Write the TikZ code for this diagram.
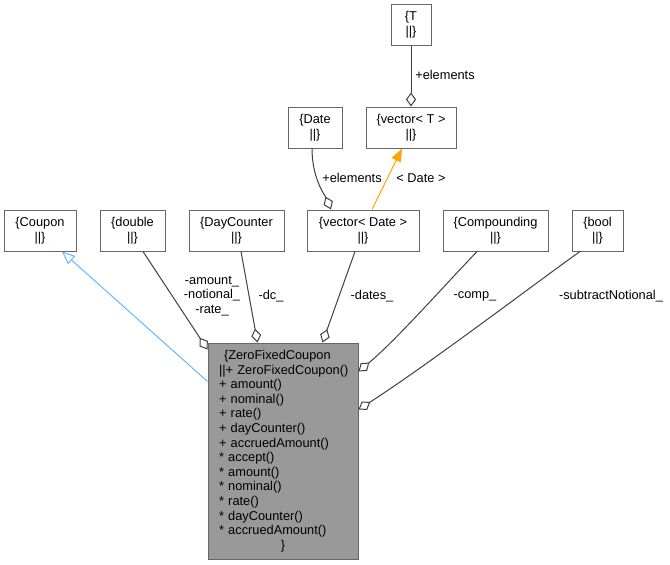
\documentclass[tikz,border=0pt]{standalone}
\usepackage{fontspec}
\setmainfont{Liberation Sans}
\usetikzlibrary{arrows.meta,calc}
\definecolor{edgec}{HTML}{404040}
\definecolor{boxc}{HTML}{666666}
\definecolor{mainfill}{HTML}{999999}
\definecolor{blueedge}{HTML}{63B8FF}
\definecolor{orangeedge}{HTML}{FFA500}
\tikzset{
 cls/.style={draw=boxc, fill=white, line width=0.75pt, inner sep=0pt, minimum height=30.75pt, align=center, font=\fontsize{9.6}{11}\selectfont},
 lbl/.style={inner sep=0pt, align=center, font=\fontsize{9.6}{10.9}\selectfont},
 member/.style={draw=edgec, line width=0.75pt, -{Diamond[open, length=10.5pt, width=7.5pt, fill=white]}},
 inherit/.style={draw=blueedge, line width=0.75pt, -{Triangle[open, length=9.75pt, width=8.25pt, fill=white]}},
 tmpl/.style={draw=orangeedge, line width=0.75pt, -{Triangle[length=9.75pt, width=7.5pt]}}
}
\begin{document}
\begin{tikzpicture}[x=0.75pt,y=-0.75pt]
\useasboundingbox (0,0) rectangle (670,564);
% class boxes
\node[cls, minimum width=30pt] (T) at (411,25) {\{T\\||\}};
\node[cls, minimum width=67.5pt] (vecT) at (411,127.5) {\{vector< T >\\||\}};
\node[cls, minimum width=40.5pt] (Date) at (315,127.5) {\{Date\\||\}};
\node[cls, minimum width=54pt] (Coupon) at (40,230.5) {\{Coupon\\||\}};
\node[cls, minimum width=48.75pt] (double) at (132.5,230.5) {\{double\\||\}};
\node[cls, minimum width=71.25pt] (DayCounter) at (236.5,230.5) {\{DayCounter\\||\}};
\node[cls, minimum width=84pt] (vecDate) at (363,230.5) {\{vector< Date >\\||\}};
\node[cls, minimum width=78.75pt] (Compounding) at (495.5,230.5) {\{Compounding\\||\}};
\node[cls, minimum width=38.25pt] (bool) at (597.5,230.5) {\{bool\\||\}};
\node[cls, fill=mainfill, minimum width=112.5pt, minimum height=162pt, text width=96pt, align=left, font=\fontsize{9.6}{10.95}\selectfont] (main) at (283,451) {%
\hspace*{3.75pt}\{ZeroFixedCoupon\\
\mbox{||+ ZeroFixedCoupon()}\\
+ amount()\\
+ nominal()\\
+ rate()\\
+ dayCounter()\\
+ accruedAmount()\\
{}* accept()\\
{}* amount()\\
{}* nominal()\\
{}* rate()\\
{}* dayCounter()\\
{}* accruedAmount()\\
\makebox[96pt]{\}}};
% connectors
\draw[member] (T.south) -- (vecT.north);
\draw[member] ($(Date.south)+(-3,0)$) .. controls +(0,30) and +(-6,-14) .. ($(vecDate.north)+(-32,0)$);
\draw[tmpl] ($(vecDate.north)+(9,0)$) -- ($(vecT.south)+(-9,0)$);
\draw[inherit] ($(main.north west)+(0,39)$) -- ($(Coupon.south)+(22,0)$);
\draw[member] ($(double.south)+(10.5,0)$) -- ($(main.north west)+(0,7)$);
\draw[member] ($(DayCounter.south)+(4.5,0)$) -- ($(main.north west)+(50,0)$);
\draw[member] ($(vecDate.south)+(-8,0)$) -- ($(main.north west)+(115,0)$);
\draw[member] ($(Compounding.south)+(-18.5,0)$) .. controls +(-38,40) and +(36,-30) .. ($(main.north east)+(0,29)$);
\draw[member] ($(bool.south)+(-17.5,0)$) .. controls +(-45,32) and +(70,-45) .. ($(main.north east)+(0,67)$);
% labels
\node[lbl] (lT) at (445,75) {+elements};
\node[lbl] (lD) at (352,178) {+elements};
\node[lbl] (lDate) at (421,178) {< Date >};
\node[lbl] (lamt) at (212,296) {-amount\_\\-notional\_\\-rate\_};
\node[lbl] (ldc) at (271,296) {-dc\_};
\node[lbl] (ldates) at (372,296) {-dates\_};
\node[lbl] (lcomp) at (475,296) {-comp\_};
\node[lbl] (lsub) at (611,296) {-subtractNotional\_};
\end{tikzpicture}
\end{document}
